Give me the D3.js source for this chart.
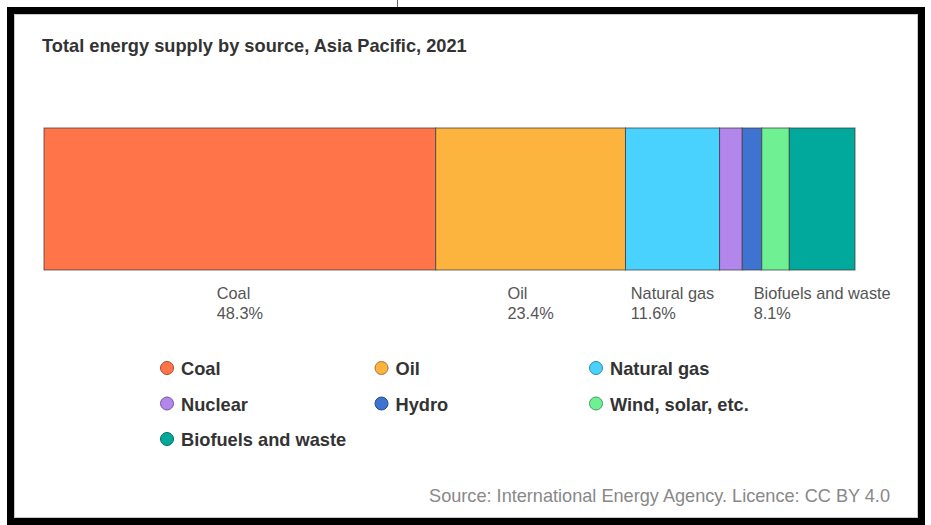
<!DOCTYPE html>
<html>
<head>
<meta charset="utf-8">
<script src="https://cdn.jsdelivr.net/npm/d3@7"></script>
<style>
  html, body { margin: 0; padding: 0; background: #fff; }
  svg { display: block; }
  text { font-family: "Liberation Sans", Arial, sans-serif; }
</style>
</head>
<body>
<svg id="chart" width="931" height="525"></svg>
<script>
// data (percent of total energy supply)
const sources = ['Coal', 'Oil', 'Natural gas', 'Nuclear', 'Hydro', 'Wind, solar, etc.', 'Biofuels and waste'];
const shares = [48.3, 23.4, 11.6, 2.8, 2.4, 3.4, 8.1];
const shareLabels = ['48.3%', '23.4%', '11.6%', '', '', '', '8.1%'];
const colors = ['#ff7449', '#fdb43f', '#49d2fd', '#b386ec', '#3f73d1', '#6ef093', '#00a99b'];

const title = 'Total energy supply by source, Asia Pacific, 2021';
const source = 'Source: International Energy Agency. Licence: CC BY 4.0';

const svg = d3.select('#chart');

// squeeze text horizontally a bit, the original font is narrower
function condense(sel, factor) {
  sel.each(function () {
    const w = this.getComputedTextLength();
    d3.select(this).attr('textLength', w * factor).attr('lengthAdjust', 'spacingAndGlyphs');
  });
}

// frame
svg.append('line')
  .attr('x1', 397.5).attr('x2', 397.5).attr('y1', 0).attr('y2', 7)
  .attr('stroke', '#666').attr('stroke-width', 1);
svg.append('rect')
  .attr('x', 10.5).attr('y', 10.5).attr('width', 911).attr('height', 511)
  .attr('fill', 'none').attr('stroke', '#000').attr('stroke-width', 7);
svg.append('rect')
  .attr('x', 14.5).attr('y', 14.5).attr('width', 903).attr('height', 503)
  .attr('fill', 'none').attr('stroke', '#c8c8c8').attr('stroke-width', 1);

svg.append('text')
  .attr('x', 42).attr('y', 52)
  .attr('font-size', 19).attr('font-weight', 'bold').attr('fill', '#333')
  .text(title)
  .call(condense, 0.96);

// stacked bar
const x = d3.scaleLinear().domain([0, d3.sum(shares)]).range([44, 855]);
const barTop = 128;
const barBottom = 270;

const stacked = [];
let acc = 0;
shares.forEach((v, i) => {
  stacked.push({ name: sources[i], v, x0: acc, x1: acc + v, label: shareLabels[i], color: colors[i] });
  acc += v;
});

svg.append('g')
  .selectAll('rect')
  .data(stacked)
  .join('rect')
  .attr('x', (d) => x(d.x0))
  .attr('y', barTop)
  .attr('width', (d) => x(d.x1) - x(d.x0))
  .attr('height', barBottom - barTop)
  .attr('fill', (d) => d.color)
  .attr('stroke', 'rgba(60,60,60,0.75)')
  .attr('stroke-width', 1);

// labels under the bar, two lines, block centred on the segment
const labels = svg.append('g')
  .selectAll('text')
  .data(stacked.filter((d) => d.label))
  .join('text')
  .attr('font-size', 17)
  .attr('fill', '#555');

labels.append('tspan').attr('y', 299).text((d) => d.name);
labels.append('tspan').attr('y', 319).text((d) => d.label);

labels.each(function (d) {
  const spans = d3.select(this).selectAll('tspan');
  let maxW = 0;
  spans.each(function () {
    const w = this.getComputedTextLength() * 0.96;
    d3.select(this).attr('textLength', w).attr('lengthAdjust', 'spacingAndGlyphs');
    maxW = Math.max(maxW, w);
  });
  const cx = (x(d.x0) + x(d.x1)) / 2;
  spans.attr('x', cx - maxW / 2);
});

// legend
const legendX = 167;
const legendCol = 214.5;
const legendY = 368;
const legendRow = 35.5;

const items = svg.append('g')
  .selectAll('g')
  .data(stacked)
  .join('g')
  .attr('transform', (d, i) => `translate(${legendX + (i % 3) * legendCol},${legendY + Math.floor(i / 3) * legendRow})`);

items.append('circle')
  .attr('r', 6.5)
  .attr('fill', (d) => d.color)
  .attr('stroke', (d) => d3.color(d.color).darker(1.2))
  .attr('stroke-width', 1);

items.append('text')
  .attr('x', 14)
  .attr('y', 7)
  .attr('font-size', 19)
  .attr('font-weight', 'bold')
  .attr('fill', '#333')
  .text((d) => d.name)
  .call(condense, 0.96);

svg.append('text')
  .attr('x', 890).attr('y', 502)
  .attr('text-anchor', 'end')
  .attr('font-size', 18.5)
  .attr('fill', '#888')
  .text(source)
  .call(condense, 0.98);
</script>
</body>
</html>
